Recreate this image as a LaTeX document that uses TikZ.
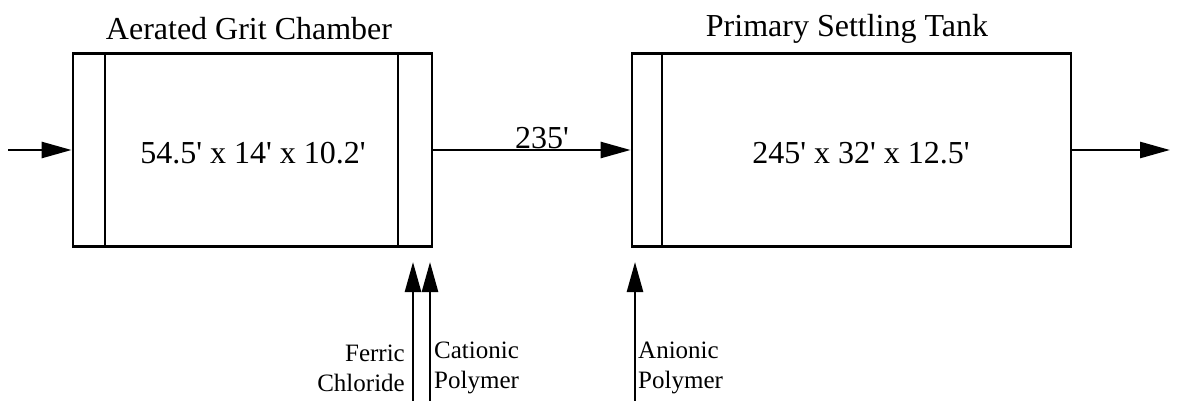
\documentclass[tikz,border=0pt]{standalone}
\usepackage{fontspec}
\setmainfont{Liberation Serif}[Ligatures=TeXOff]
\usetikzlibrary{arrows.meta}
\begin{document}
\begin{tikzpicture}[x=1pt,y=-1pt,
  tank/.style={draw, line width=2.8pt, rectangle, inner sep=0pt},
  divider/.style={line width=2.2pt},
  flow/.style={line width=2.6pt, -{Triangle[length=30pt,width=16pt]}},
  bigtext/.style={font=\fontsize{32}{36}\selectfont, inner sep=0pt},
  smalltext/.style={font=\fontsize{25}{30}\selectfont, inner sep=0pt}]
\useasboundingbox (0,0) rectangle (1180,401);
% tanks
\node[tank, minimum width=359, minimum height=193] (grit) at (252.5,150) {};
\node[tank, minimum width=439, minimum height=193] (pst) at (851.5,150) {};
\draw[divider] (105,54) -- (105,246);
\draw[divider] (398,54) -- (398,246);
\draw[divider] (662,54) -- (662,246);
% titles
\node[bigtext, anchor=base] (gtitle) at (249,40) {Aerated Grit Chamber};
\node[bigtext, anchor=base] (ptitle) at (847,37) {Primary Settling Tank};
% dimensions
\node[bigtext, anchor=base] (gdim) at (253,163) {54.5' x 14' x 10.2'};
\node[bigtext, anchor=base] (pdim) at (861,163) {245' x 32' x 12.5'};
% flows
\coordinate (in) at (8,150);
\coordinate (out) at (1170,150);
\draw[flow] (in) -- (grit.west);
\draw[flow] (grit.east) -- (pst.west);
\node[bigtext, anchor=base] (dist) at (542,148) {235'};
\draw[flow] (pst.east) -- (out);
% chemical feeds
\coordinate (f0) at (413,401); \coordinate (f1) at (413,262);
\coordinate (c0) at (430,401); \coordinate (c1) at (430,262);
\coordinate (a0) at (635,401); \coordinate (a1) at (635,262);
\draw[flow] (f0) -- (f1);
\draw[flow] (c0) -- (c1);
\draw[flow] (a0) -- (a1);
\node[smalltext, anchor=east, align=right] (ferric) at (405,368) {Ferric\\Chloride};
\node[smalltext, anchor=west, align=left] (cationic) at (434,368) {Cationic\\Polymer};
\node[smalltext, anchor=west, align=left] (anionic) at (638,368) {Anionic\\Polymer};
\end{tikzpicture}
\end{document}
